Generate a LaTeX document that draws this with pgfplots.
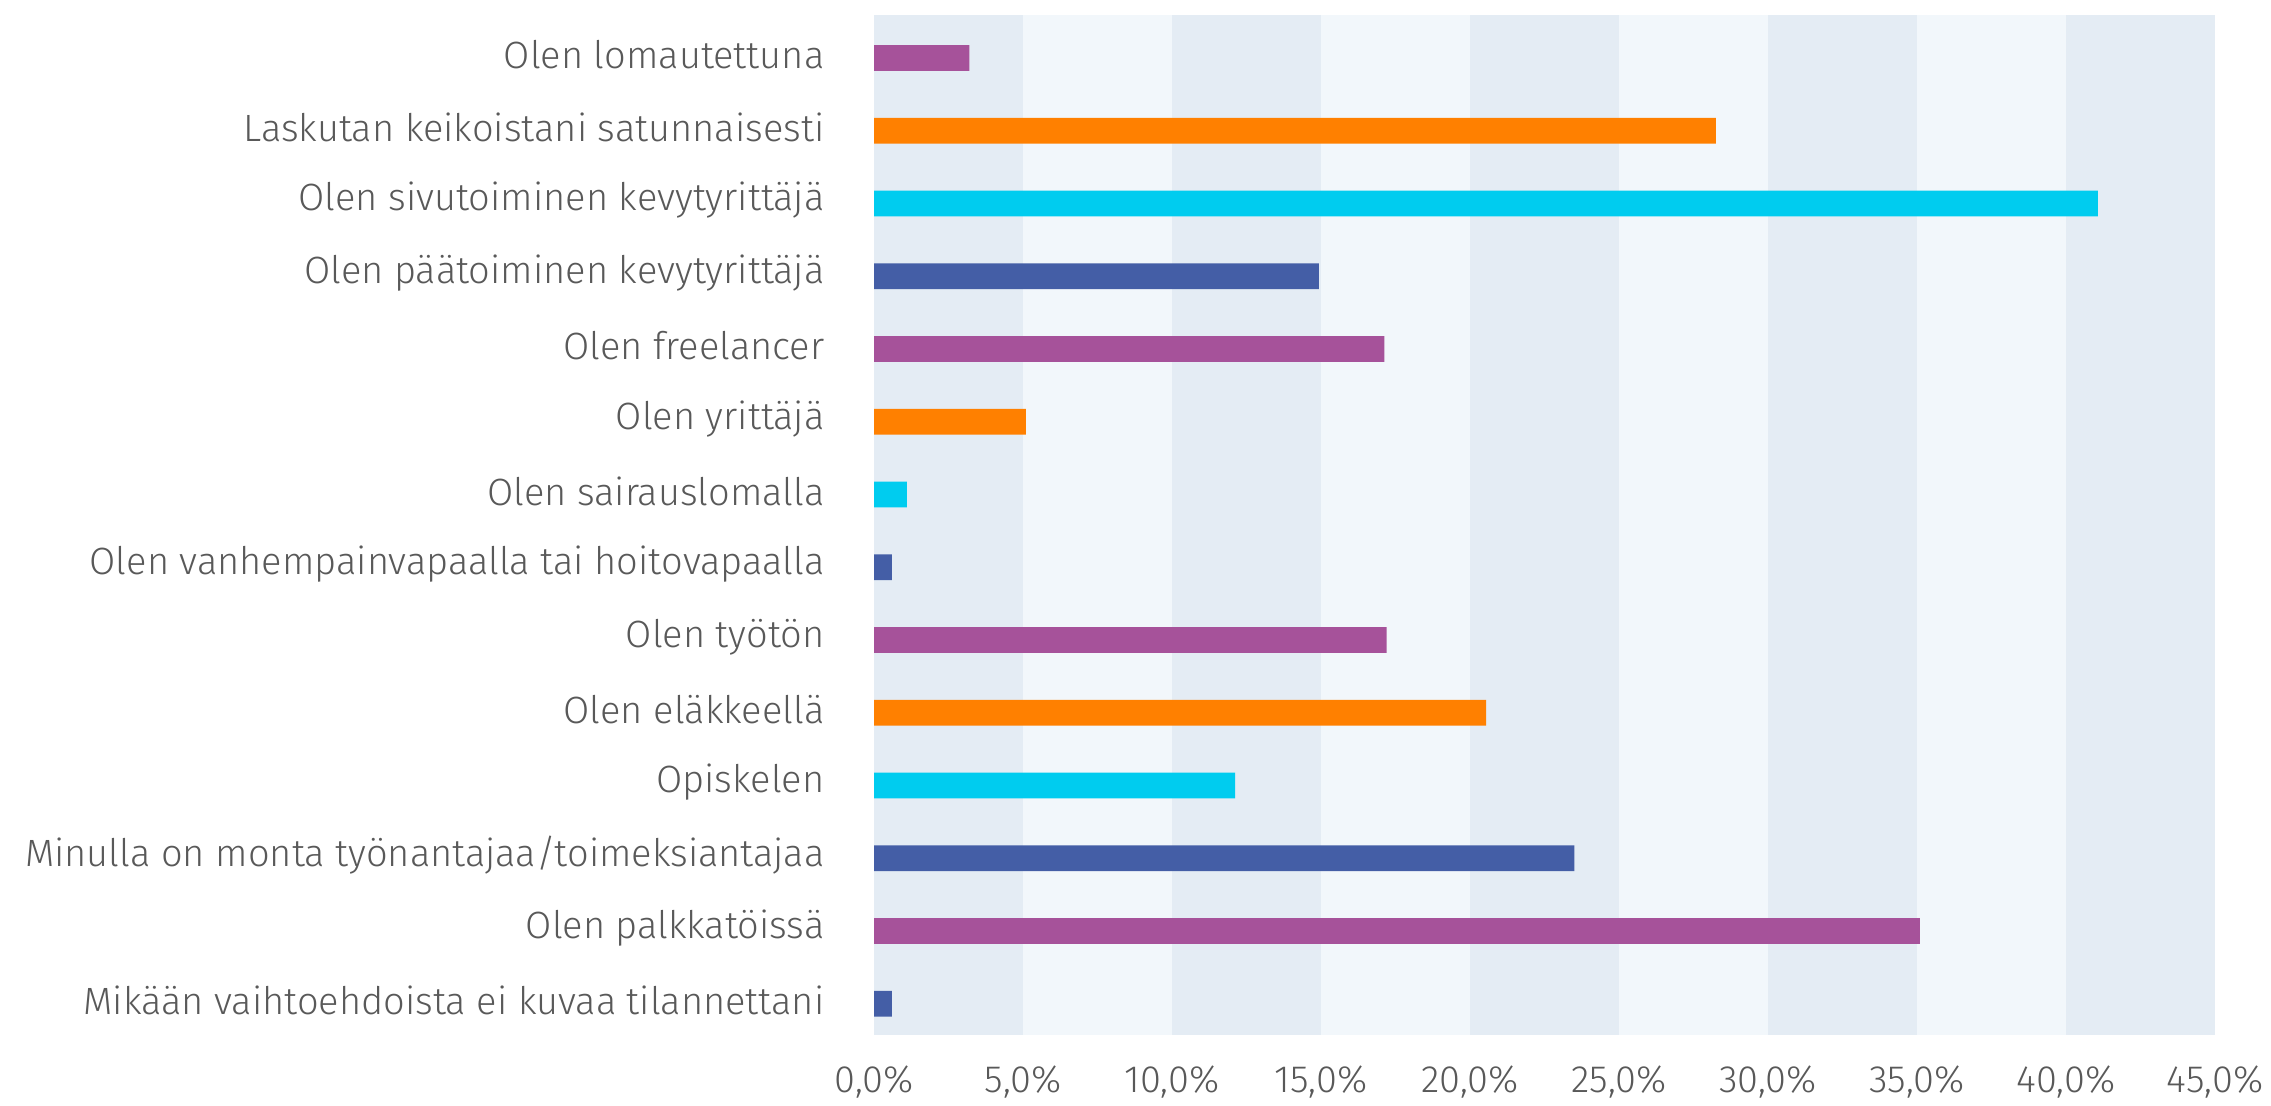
\documentclass[border=0pt]{standalone}
\usepackage{fontspec}
\setmainfont{Fira Sans}[UprightFont={* Light}]
\usepackage{pgfplots}
\pgfplotsset{compat=1.18}
\definecolor{cpurple}{HTML}{A6529A}
\definecolor{corange}{HTML}{FF8000}
\definecolor{ccyan}{HTML}{00CCEF}
\definecolor{cblue}{HTML}{445EA6}
\definecolor{bandA}{HTML}{E4ECF4}
\definecolor{bandB}{HTML}{F2F7FB}
\definecolor{txt}{HTML}{595959}
\begin{document}
\begin{tikzpicture}
\begin{axis}[
  set layers,
  scale only axis,
  width=670.5pt, height=510pt,
  xmin=0, xmax=45, ymin=-0.43, ymax=13.59,
  axis line style={draw=none},
  tick style={draw=none},
  xbar, bar width=12.85pt, bar shift=0pt,
  xtick={0,5,...,45},
  xticklabels={{0,0\%},{5,0\%},{10,0\%},{15,0\%},{20,0\%},{25,0\%},{30,0\%},{35,0\%},{40,0\%},{45,0\%}},
  ytick={0,...,13},
  yticklabels={Mikään vaihtoehdoista ei kuvaa tilannettani,Olen palkkatöissä,Minulla on monta työnantajaa/toimeksiantajaa,Opiskelen,Olen eläkkeellä,Olen työtön,Olen vanhempainvapaalla tai hoitovapaalla,Olen sairauslomalla,Olen yrittäjä,Olen freelancer,Olen päätoiminen kevytyrittäjä,Olen sivutoiminen kevytyrittäjä,Laskutan keikoistani satunnaisesti,Olen lomautettuna},
  tick label style={font=\fontsize{19pt}{22pt}\selectfont, text=txt},
  yticklabel style={anchor=east, xshift=-17pt, yshift=1.5pt},
  xticklabel style={anchor=north, yshift=-12pt},
]
\begin{pgfonlayer}{axis background}
\fill[bandA] (axis cs:0,-0.43) rectangle (axis cs:5,13.59);
\fill[bandB] (axis cs:5,-0.43) rectangle (axis cs:10,13.59);
\fill[bandA] (axis cs:10,-0.43) rectangle (axis cs:15,13.59);
\fill[bandB] (axis cs:15,-0.43) rectangle (axis cs:20,13.59);
\fill[bandA] (axis cs:20,-0.43) rectangle (axis cs:25,13.59);
\fill[bandB] (axis cs:25,-0.43) rectangle (axis cs:30,13.59);
\fill[bandA] (axis cs:30,-0.43) rectangle (axis cs:35,13.59);
\fill[bandB] (axis cs:35,-0.43) rectangle (axis cs:40,13.59);
\fill[bandA] (axis cs:40,-0.43) rectangle (axis cs:45,13.59);
\end{pgfonlayer}
\addplot[fill=cpurple, draw=none] coordinates {(3.2,13) (17.13,9) (17.2,5) (35.1,1)};
\addplot[fill=corange, draw=none] coordinates {(28.25,12) (5.1,8) (20.54,4)};
\addplot[fill=ccyan, draw=none] coordinates {(41.07,11) (1.1,7) (12.12,3)};
\addplot[fill=cblue, draw=none] coordinates {(14.93,10) (0.6,6) (23.5,2) (0.6,0)};
\coordinate (ll) at (rel axis cs:0,0);
\coordinate (ur) at (rel axis cs:1,1);
\end{axis}
\pgfresetboundingbox
\path[use as bounding box] ([shift={(-437pt,-35pt)}]ll) rectangle ([shift={(28pt,7.5pt)}]ur);
\end{tikzpicture}
\end{document}
